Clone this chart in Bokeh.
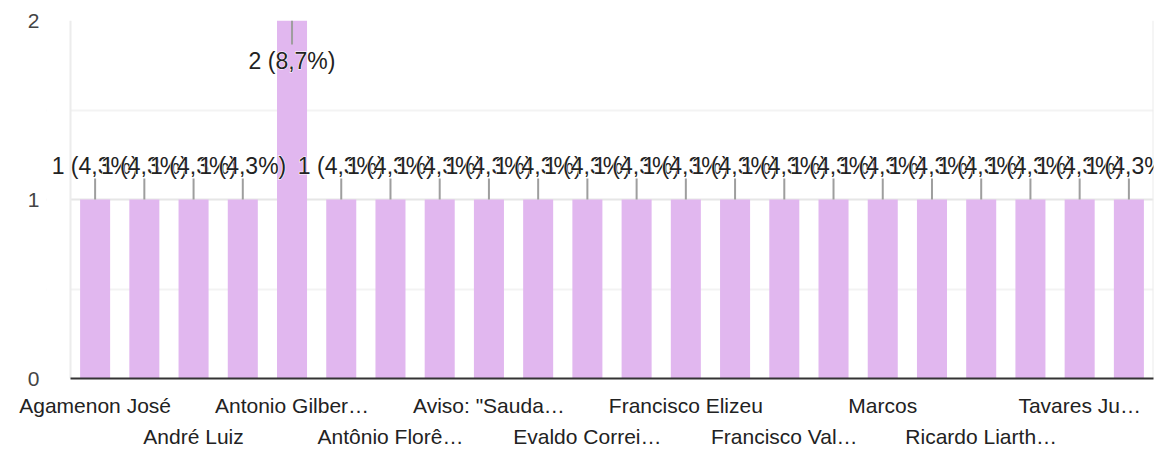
from bokeh.plotting import figure
from bokeh.models import Range1d, FixedTicker, ColumnDataSource, Label, BoxAnnotation, Span
from bokeh.embed import file_html
from bokeh.resources import INLINE

# ---- data ----
categories = [
    "Agamenon José", "", "André Luiz", "", "Antonio Gilber…", "", "Antônio Florê…", "",
    "Aviso: \"Sauda…", "", "Evaldo Correi…", "", "Francisco Elizeu", "", "Francisco Val…", "",
    "Marcos", "", "Ricardo Liarth…", "", "Tavares Ju…", "",
]
counts = [1, 1, 1, 1, 2, 1, 1, 1, 1, 1, 1, 1, 1, 1, 1, 1, 1, 1, 1, 1, 1, 1]
y_ticks = [0, 1, 2]
y_minor = [0.5, 1.5]

FONT = "Liberation Sans"
BAR = "#e1b7ef"

n = len(counts)
xs = list(range(n))
total = sum(counts)
labels = [f"{c} ({c / total * 100:.1f}%)".replace(".", ",") for c in counts]

# layout: the frame reaches a bit left of the visible plot area so the first value
# label is not clipped; the strip is masked in white.
W, H = 1155, 450
MB_L, MB_R, MB_T, MB_B = 46, 2, 20, 72
PLOT_L = 70
step = (W - MB_R - PLOT_L) / n
x_lo, x_hi = -0.5, n - 0.5
x_start = x_lo - (PLOT_L - MB_L) / step

frame_h = H - MB_T - MB_B
ymax = max(y_ticks)
px = ymax / frame_h  # data units per pixel

ann_y, stem_y0, stem_y1 = [], [], []
for c in counts:
    if c < ymax:
        ann_y.append(c + 34 * px)
        stem_y0.append(c)
        stem_y1.append(c + 21 * px)
    else:
        ann_y.append(c - 40 * px)
        stem_y0.append(c)
        stem_y1.append(c - 24 * px)

src = ColumnDataSource(dict(x=xs, top=counts, s0=stem_y0, s1=stem_y1))

p = figure(width=W, height=H, x_range=Range1d(x_start, x_hi), y_range=Range1d(0, ymax),
           output_backend="svg", toolbar_location=None,
           min_border_left=MB_L, min_border_right=MB_R, min_border_top=MB_T, min_border_bottom=MB_B)

p.xgrid.grid_line_color = None
p.ygrid.grid_line_color = "#e6e6e6"
p.ygrid.grid_line_width = 2
p.ygrid.minor_grid_line_color = "#f3f3f3"
p.ygrid.minor_grid_line_width = 2
p.outline_line_color = None

# white mask over the strip left of the plot area, then the plot-area edges
p.add_layout(BoxAnnotation(right=x_lo, fill_color="white", fill_alpha=1.0, line_color=None,
                           level="underlay"))
p.add_layout(Span(location=x_lo, dimension="height", line_color="#ececec", line_width=2,
                  level="underlay"))
p.add_layout(Span(location=x_hi, dimension="height", line_color="#ececec", line_width=2,
                  level="underlay"))

p.vbar(x="x", top="top", width=0.61, source=src, fill_color=BAR, line_color=None)
p.segment(x0="x", y0="s0", x1="x", y1="s1", source=src, line_color="#9e9e9e", line_width=2)

# value labels: each with its own white halo, drawn in order so later ones cover earlier ones
for i in range(n):
    common = dict(x=xs[i], y=ann_y[i], text=labels[i], text_align="center",
                  text_baseline="middle", text_font=FONT, text_font_size="23px")
    p.add_layout(Label(text_color="white", text_outline_color="white", **common))
    p.add_layout(Label(text_color="#222222", **common))

# axes
p.yaxis.ticker = FixedTicker(ticks=y_ticks, minor_ticks=y_minor)
p.yaxis.axis_line_color = None
p.yaxis.major_tick_line_color = None
p.yaxis.minor_tick_line_color = None
p.yaxis.major_label_standoff = 1
p.yaxis.major_label_text_font = FONT
p.yaxis.major_label_text_font_size = "21px"
p.yaxis.major_label_text_color = "#444444"

overrides = {}
shown = 0
for i, name in zip(xs, categories):
    if name:
        overrides[i] = name if shown % 2 == 0 else "\n" + name
        shown += 1
    else:
        overrides[i] = ""
p.xaxis.ticker = FixedTicker(ticks=xs, minor_ticks=[])
p.xaxis.major_label_overrides = overrides
p.xaxis.bounds = (x_lo, x_hi)
p.xaxis.axis_line_color = "#333333"
p.xaxis.axis_line_width = 2
p.xaxis.major_tick_line_color = None
p.xaxis.minor_tick_line_color = None
p.xaxis.major_label_standoff = 9
p.xaxis.major_label_text_font = FONT
p.xaxis.major_label_text_font_size = "21px"
p.xaxis.major_label_text_color = "#222222"
p.xaxis.major_label_text_line_height = 1.35

open("out.html", "w").write(file_html(p, INLINE))
